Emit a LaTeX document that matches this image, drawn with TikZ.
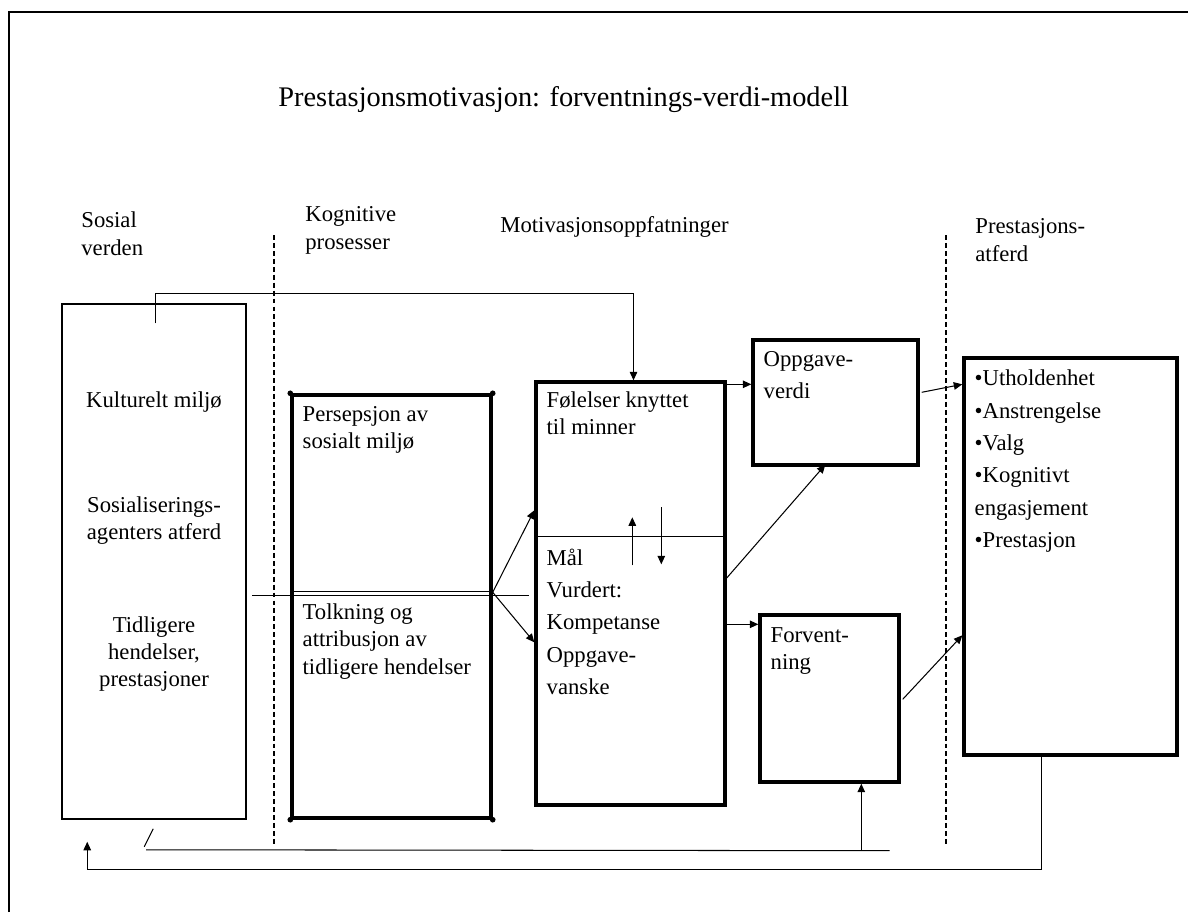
\documentclass[tikz,border=0pt]{standalone}
\usepackage{fontspec}
\setmainfont{Liberation Serif}
\usetikzlibrary{calc, positioning, arrows.meta, fit}
\tikzset{
  frame/.style    = {draw, line width=1pt},
  softbox/.style  = {draw, line width=0.8pt, inner sep=0pt},
  heavybox/.style = {draw, line width=1.8pt, inner sep=0pt},
  sep/.style      = {line width=0.6pt, dash pattern=on 2.6pt off 1.6pt},
  ln/.style       = {line width=0.55pt},
  fl/.style       = {-{Triangle[length=4.5pt,width=4pt]}, line width=0.55pt},
  txt/.style      = {inner sep=0pt, align=left, anchor=north west,
                     font=\fontsize{12}{14.3}\selectfont},
  ctxt/.style     = {txt, align=center, anchor=north},
  wide/.style     = {txt, font=\fontsize{12}{17.1}\selectfont},
  head/.style     = {txt, font=\fontsize{12}{14.8}\selectfont}
}

\begin{document}
\begin{tikzpicture}[x=0.5286pt, y=-0.5286pt]
  \useasboundingbox (0,0) rectangle (1188,912);
  \draw[frame] (9,912) -- (9,12) -- (1188,12);

  % title and column heads
  \node[anchor=base west, inner sep=0pt, font=\fontsize{15}{18}\selectfont] (title) at (278,106)
    {Prestasjonsmotivasjon: forventnings-verdi-modell};
  \node[head] (h-social) at (81,211.5) {Sosial\\verden};
  \node[head] (h-cogn) at (305,206.5) {Kognitive\\prosesser};
  \node[anchor=base west, inner sep=0pt, font=\fontsize{12}{14.3}\selectfont] (h-motiv) at (500,232)
    {Motivasjonsoppfatninger};
  \node[head] (h-behav) at (975,218.5) {Prestasjons-\\atferd};

  \draw[sep] (274,235) -- (274,845);
  \draw[sep] (946,235) -- (946,845);

  % boxes
  \node[softbox, fit={(62,304) (246,819)}] (social) {};
  \node[heavybox, fit={(292,395) (491,818)}] (cogn) {};
  \node[heavybox, fit={(536,382) (725,805)}] (motiv) {};
  \node[heavybox, fit={(753,340) (918,465)}] (value) {};
  \node[heavybox, fit={(760,615) (899,782)}] (expect) {};
  \node[heavybox, fit={(964,358) (1177,755)}] (behav) {};
  \foreach \c in {north west, north east, south west, south east}
    \fill (cogn.\c) circle (1.5pt);
  \draw[ln] ($(cogn.north west)+(0,198)$) -- ($(cogn.north east)+(0,198)$);
  \draw[ln] ($(cogn.north west)+(-38,202)$) -- ($(cogn.north east)+(36,202)$);
  \draw[ln] ($(motiv.north west)+(0,156)$) -- ($(motiv.north east)+(0,156)$);

  % texts
  \node[ctxt, anchor=base] (t-cult) at (154,407) {Kulturelt miljø};
  \node[ctxt] (t-agents) at (154,496.5) {Sosialiserings-\\agenters atferd};
  \node[ctxt] (t-past) at (154,616.5) {Tidligere\\hendelser,\\prestasjoner};
  \node[txt] (t-perc) at ($(cogn.north west)+(12,12.5)$) {Persepsjon av\\sosialt miljø};
  \node[txt] (t-interp) at ($(cogn.north west)+(12,210.5)$) {Tolkning og\\attribusjon av\\tidligere hendelser};
  \node[txt] (t-feel) at ($(motiv.north west)+(12,11.5)$) {Følelser knyttet\\til minner};
  \node[wide] (t-goal) at ($(motiv.north west)+(12,168)$) {Mål\\Vurdert:\\Kompetanse\\Oppgave-\\vanske};
  \node[wide] (t-value) at ($(value.north west)+(12,12.5)$) {Oppgave-\\verdi};
  \node[txt] (t-expect) at ($(expect.north west)+(12,13.5)$) {Forvent-\\ning};
  \node[wide] (t-behav) at ($(behav.north west)+(12,13.5)$)
    {•Utholdenhet\\•Anstrengelse\\•Valg\\•Kognitivt\\engasjement\\•Prestasjon};

  % connectors
  \coordinate (pivot) at ($(cogn.north east)+(0,199)$);
  \draw[fl] (pivot) -- ($(motiv.north west)+(0,130)$);
  \draw[fl] (pivot) -- ($(motiv.north west)+(0,262)$);
  \draw[fl] ($(social.north west)+(94,20)$) -- ++(0,-30) -| ($(motiv.north)+(3,0)$);
  \draw[fl] ($(motiv.north west)+(98,185)$) -- ++(0,-48);
  \draw[fl] ($(motiv.north west)+(127,127)$) -- ++(0,57);
  \draw[fl] ($(motiv.north east)+(0,4)$) -- ($(value.north west)+(0,46)$);
  \draw[fl] ($(motiv.north east)+(-2,200)$) -- ($(value.south west)+(74,-2)$);
  \draw[fl] ($(motiv.north east)+(0,244)$) -- ($(expect.north west)+(0,11)$);
  \draw[fl] ($(value.north east)+(2,54)$) -- ($(behav.north west)+(0,28)$);
  \draw[fl] ($(expect.north east)+(2,86)$) -- ($(behav.north west)+(0,279)$);

  % feedback loops
  \draw[fl] ($(behav.south west)+(79,0)$) |- ($(social.south west)+(26,50)$) -- ($(social.south west)+(26,22)$);
  \draw[ln] ($(expect.south east)+(-11,67)$) -- ($(social.south west)+(85,30)$);
  \draw[ln] ($(social.south west)+(83,27)$) -- ($(social.south west)+(92,9)$);
  \draw[fl] ($(expect.south west)+(103,67)$) -- ($(expect.south west)+(103,0)$);
\end{tikzpicture}
\end{document}
